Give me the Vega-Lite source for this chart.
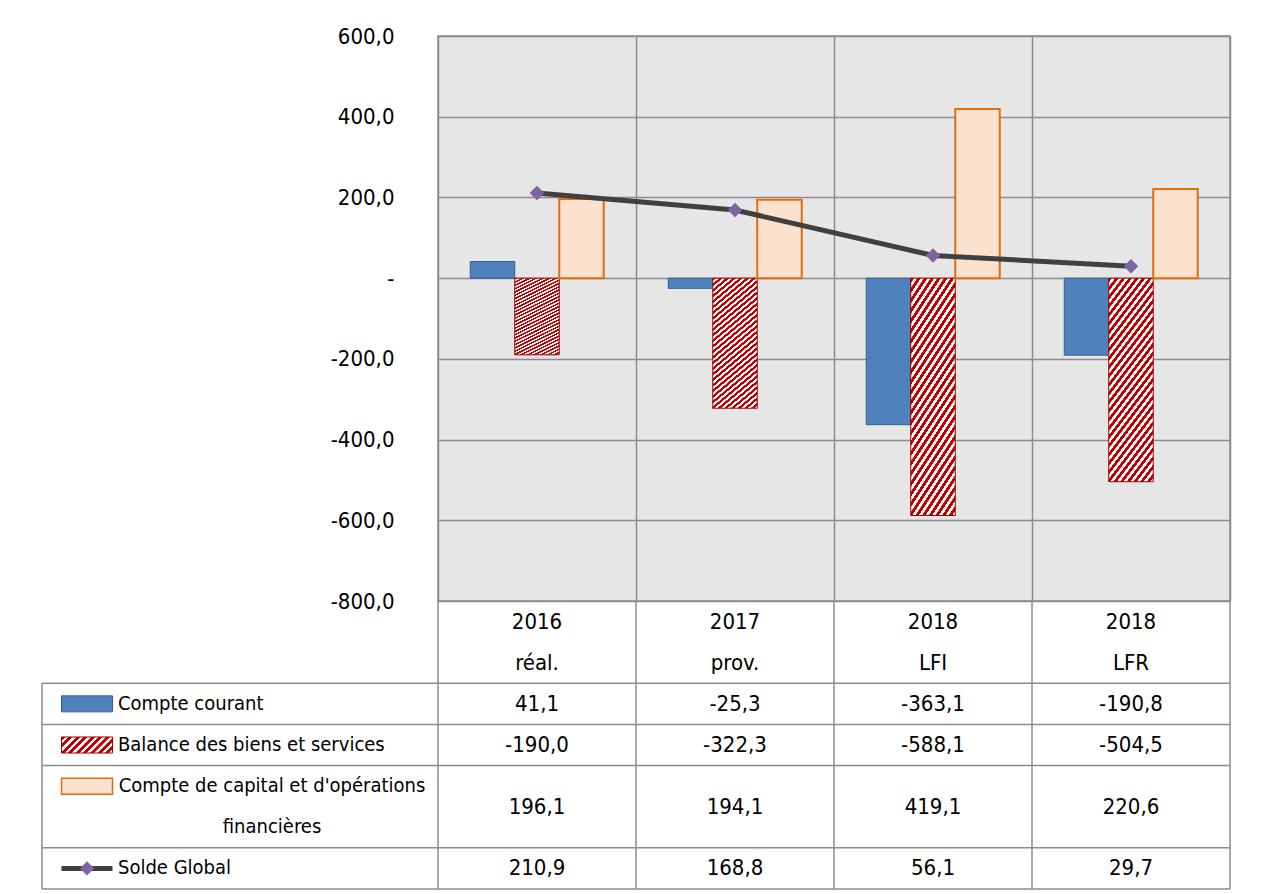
{
  "$schema": "https://vega.github.io/schema/vega-lite/v6.json",
  "autosize": {"type": "pad"},
  "padding": {"left": 41, "top": 24, "right": 30, "bottom": 5},
  "background": "#ffffff",
  "config": {
    "font": "Liberation Sans Narrow, DejaVu Sans Condensed, sans-serif",
    "view": {"stroke": null},
    "text": {"fontSize": 22, "fill": "#000000"},
    "locale": {"number": {"decimal": ",", "thousands": " ", "grouping": [3], "currency": ["", " €"], "minus": "-"}}
  },
  "datasets": {
    "vals": [
      {"series": "Compte courant", "cat": "2016 réal.", "value": 41.1},
      {"series": "Compte courant", "cat": "2017 prov.", "value": -25.3},
      {"series": "Compte courant", "cat": "2018 LFI", "value": -363.1},
      {"series": "Compte courant", "cat": "2018 LFR", "value": -190.8},
      {"series": "Balance des biens et services", "cat": "2016 réal.", "value": -190.0},
      {"series": "Balance des biens et services", "cat": "2017 prov.", "value": -322.3},
      {"series": "Balance des biens et services", "cat": "2018 LFI", "value": -588.1},
      {"series": "Balance des biens et services", "cat": "2018 LFR", "value": -504.5},
      {"series": "Compte de capital et d'opérations financières", "cat": "2016 réal.", "value": 196.1},
      {"series": "Compte de capital et d'opérations financières", "cat": "2017 prov.", "value": 194.1},
      {"series": "Compte de capital et d'opérations financières", "cat": "2018 LFI", "value": 419.1},
      {"series": "Compte de capital et d'opérations financières", "cat": "2018 LFR", "value": 220.6},
      {"series": "Solde Global", "cat": "2016 réal.", "value": 210.9},
      {"series": "Solde Global", "cat": "2017 prov.", "value": 168.8},
      {"series": "Solde Global", "cat": "2018 LFI", "value": 56.1},
      {"series": "Solde Global", "cat": "2018 LFR", "value": 29.7}
    ],
    "cats": [
      {"cat": "2016 réal.", "year": "2016", "tag": "réal."},
      {"cat": "2017 prov.", "year": "2017", "tag": "prov."},
      {"cat": "2018 LFI", "year": "2018", "tag": "LFI"},
      {"cat": "2018 LFR", "year": "2018", "tag": "LFR"}
    ],
    "series": [
      {"series": "Compte courant"},
      {"series": "Balance des biens et services"},
      {"series": "Compte de capital et d'opérations financières"},
      {"series": "Solde Global"}
    ]
  },
  "columns": 2,
  "spacing": 0,
  "bounds": "flush",
  "concat": [
    {"width": 396, "height": 565, "data": {"values": []}, "mark": {"type": "point", "opacity": 0}, "encoding": {}},
    {
      "width": 792,
      "height": 565,
      "view": {"fill": "#e6e6e6", "stroke": "#8c8c8c", "strokeWidth": 1.5},
      "data": {"name": "vals"},
      "encoding": {
        "x": {
          "field": "cat", "type": "nominal",
          "scale": {"domain": ["2016 réal.", "2017 prov.", "2018 LFI", "2018 LFR"], "paddingInner": 0, "paddingOuter": 0},
          "axis": {"title": null, "labels": false, "ticks": false, "domain": false, "grid": true, "gridColor": "#8c8c8c", "gridWidth": 1.5, "tickBand": "extent"}
        },
        "y": {
          "field": "value", "type": "quantitative",
          "scale": {"domain": [-800, 600], "nice": false, "zero": false},
          "axis": {
            "title": null,
            "values": [-800, -600, -400, -200, 0, 200, 400, 600],
            "labelExpr": "datum.value == 0 ? '-\u00a0\u00a0\u00a0' : format(datum.value, '.1f')",
            "ticks": false, "domain": false, "grid": true, "gridColor": "#8c8c8c", "gridWidth": 1.5,
            "labelFontSize": 22, "labelColor": "#000000", "labelPadding": 44,
            "labelFont": "Liberation Sans Narrow, DejaVu Sans Condensed, sans-serif"
          }
        }
      },
      "layer": [
        {
          "transform": [{"filter": {"field": "series", "equal": "Compte courant"}}],
          "mark": {"type": "bar", "fill": "#4f81bd", "stroke": "#385d8a", "strokeWidth": 1},
          "encoding": {"xOffset": {"field": "series", "type": "nominal", "scale": {"domain": ["Compte courant", "Balance des biens et services", "Compte de capital et d'opérations financières"], "paddingInner": 0, "paddingOuter": 0.725}}}
        },
        {
          "transform": [{"filter": {"field": "series", "equal": "Balance des biens et services"}}],
          "mark": {
            "type": "bar", "stroke": "#9c0000", "strokeWidth": 1,
            "fill": {
              "gradient": "linear", "x1": 0, "y1": 0, "x2": 0.34, "y2": 1.19,
              "stops": [
                {"offset": 0, "color": "#c00000"}, {"offset": 0.016, "color": "#c00000"}, {"offset": 0.0173, "color": "#ffffff"}, {"offset": 0.032, "color": "#ffffff"},
                {"offset": 0.0333, "color": "#c00000"}, {"offset": 0.0493, "color": "#c00000"}, {"offset": 0.0506, "color": "#ffffff"}, {"offset": 0.0653, "color": "#ffffff"},
                {"offset": 0.0667, "color": "#c00000"}, {"offset": 0.0827, "color": "#c00000"}, {"offset": 0.084, "color": "#ffffff"}, {"offset": 0.0987, "color": "#ffffff"},
                {"offset": 0.1, "color": "#c00000"}, {"offset": 0.116, "color": "#c00000"}, {"offset": 0.1173, "color": "#ffffff"}, {"offset": 0.132, "color": "#ffffff"},
                {"offset": 0.1333, "color": "#c00000"}, {"offset": 0.1493, "color": "#c00000"}, {"offset": 0.1506, "color": "#ffffff"}, {"offset": 0.1653, "color": "#ffffff"},
                {"offset": 0.1667, "color": "#c00000"}, {"offset": 0.1827, "color": "#c00000"}, {"offset": 0.184, "color": "#ffffff"}, {"offset": 0.1987, "color": "#ffffff"},
                {"offset": 0.2, "color": "#c00000"}, {"offset": 0.216, "color": "#c00000"}, {"offset": 0.2173, "color": "#ffffff"}, {"offset": 0.232, "color": "#ffffff"},
                {"offset": 0.2333, "color": "#c00000"}, {"offset": 0.2493, "color": "#c00000"}, {"offset": 0.2506, "color": "#ffffff"}, {"offset": 0.2653, "color": "#ffffff"},
                {"offset": 0.2667, "color": "#c00000"}, {"offset": 0.2827, "color": "#c00000"}, {"offset": 0.284, "color": "#ffffff"}, {"offset": 0.2987, "color": "#ffffff"},
                {"offset": 0.3, "color": "#c00000"}, {"offset": 0.316, "color": "#c00000"}, {"offset": 0.3173, "color": "#ffffff"}, {"offset": 0.332, "color": "#ffffff"},
                {"offset": 0.3333, "color": "#c00000"}, {"offset": 0.3493, "color": "#c00000"}, {"offset": 0.3506, "color": "#ffffff"}, {"offset": 0.3653, "color": "#ffffff"},
                {"offset": 0.3667, "color": "#c00000"}, {"offset": 0.3827, "color": "#c00000"}, {"offset": 0.384, "color": "#ffffff"}, {"offset": 0.3987, "color": "#ffffff"},
                {"offset": 0.4, "color": "#c00000"}, {"offset": 0.416, "color": "#c00000"}, {"offset": 0.4173, "color": "#ffffff"}, {"offset": 0.432, "color": "#ffffff"},
                {"offset": 0.4333, "color": "#c00000"}, {"offset": 0.4493, "color": "#c00000"}, {"offset": 0.4506, "color": "#ffffff"}, {"offset": 0.4653, "color": "#ffffff"},
                {"offset": 0.4667, "color": "#c00000"}, {"offset": 0.4827, "color": "#c00000"}, {"offset": 0.484, "color": "#ffffff"}, {"offset": 0.4987, "color": "#ffffff"},
                {"offset": 0.5, "color": "#c00000"}, {"offset": 0.516, "color": "#c00000"}, {"offset": 0.5173, "color": "#ffffff"}, {"offset": 0.532, "color": "#ffffff"},
                {"offset": 0.5333, "color": "#c00000"}, {"offset": 0.5493, "color": "#c00000"}, {"offset": 0.5506, "color": "#ffffff"}, {"offset": 0.5653, "color": "#ffffff"},
                {"offset": 0.5667, "color": "#c00000"}, {"offset": 0.5827, "color": "#c00000"}, {"offset": 0.584, "color": "#ffffff"}, {"offset": 0.5987, "color": "#ffffff"},
                {"offset": 0.6, "color": "#c00000"}, {"offset": 0.616, "color": "#c00000"}, {"offset": 0.6173, "color": "#ffffff"}, {"offset": 0.632, "color": "#ffffff"},
                {"offset": 0.6333, "color": "#c00000"}, {"offset": 0.6493, "color": "#c00000"}, {"offset": 0.6506, "color": "#ffffff"}, {"offset": 0.6653, "color": "#ffffff"},
                {"offset": 0.6667, "color": "#c00000"}, {"offset": 0.6827, "color": "#c00000"}, {"offset": 0.684, "color": "#ffffff"}, {"offset": 0.6987, "color": "#ffffff"},
                {"offset": 0.7, "color": "#c00000"}, {"offset": 0.716, "color": "#c00000"}, {"offset": 0.7173, "color": "#ffffff"}, {"offset": 0.732, "color": "#ffffff"},
                {"offset": 0.7333, "color": "#c00000"}, {"offset": 0.7493, "color": "#c00000"}, {"offset": 0.7506, "color": "#ffffff"}, {"offset": 0.7653, "color": "#ffffff"},
                {"offset": 0.7667, "color": "#c00000"}, {"offset": 0.7827, "color": "#c00000"}, {"offset": 0.784, "color": "#ffffff"}, {"offset": 0.7987, "color": "#ffffff"},
                {"offset": 0.8, "color": "#c00000"}, {"offset": 0.816, "color": "#c00000"}, {"offset": 0.8173, "color": "#ffffff"}, {"offset": 0.832, "color": "#ffffff"},
                {"offset": 0.8333, "color": "#c00000"}, {"offset": 0.8493, "color": "#c00000"}, {"offset": 0.8506, "color": "#ffffff"}, {"offset": 0.8653, "color": "#ffffff"},
                {"offset": 0.8667, "color": "#c00000"}, {"offset": 0.8827, "color": "#c00000"}, {"offset": 0.884, "color": "#ffffff"}, {"offset": 0.8987, "color": "#ffffff"},
                {"offset": 0.9, "color": "#c00000"}, {"offset": 0.916, "color": "#c00000"}, {"offset": 0.9173, "color": "#ffffff"}, {"offset": 0.932, "color": "#ffffff"},
                {"offset": 0.9333, "color": "#c00000"}, {"offset": 0.9493, "color": "#c00000"}, {"offset": 0.9506, "color": "#ffffff"}, {"offset": 0.9653, "color": "#ffffff"},
                {"offset": 0.9667, "color": "#c00000"}, {"offset": 0.9827, "color": "#c00000"}, {"offset": 0.984, "color": "#ffffff"}, {"offset": 0.9987, "color": "#ffffff"},
                {"offset": 1, "color": "#c00000"}
              ]
            }
          },
          "encoding": {"xOffset": {"field": "series", "type": "nominal"}}
        },
        {
          "transform": [{"filter": {"field": "series", "equal": "Compte de capital et d'opérations financières"}}],
          "mark": {"type": "bar", "fill": "#fae2ce", "stroke": "#e46c0a", "strokeWidth": 2},
          "encoding": {"xOffset": {"field": "series", "type": "nominal"}}
        },
        {
          "transform": [{"filter": {"field": "series", "equal": "Solde Global"}}],
          "mark": {"type": "line", "stroke": "#404040", "strokeWidth": 5}
        },
        {
          "transform": [{"filter": {"field": "series", "equal": "Solde Global"}}],
          "mark": {"type": "point", "shape": "diamond", "filled": true, "fill": "#8064a2", "stroke": null, "size": 210, "opacity": 1}
        }
      ]
    },
    {
      "width": 396,
      "height": 288,
      "layer": [
        {
          "data": {"name": "series"},
          "mark": {"type": "rule", "stroke": "#8c8c8c", "strokeWidth": 1.5},
          "encoding": {
            "y": {"field": "series", "type": "nominal", "bandPosition": 0,
              "scale": {"type": "band", "domain": ["h1", "h2", "Compte courant", "Balance des biens et services", "Compte de capital et d'opérations financières", "c2", "Solde Global"], "paddingInner": 0, "paddingOuter": 0},
              "axis": null}
          }
        },
        {
          "data": {"values": [{}]},
          "mark": {"type": "rule", "stroke": "#8c8c8c", "strokeWidth": 1.5},
          "encoding": {"y": {"datum": "Solde Global", "type": "nominal", "bandPosition": 1}}
        },
        {
          "data": {"values": [{}]},
          "mark": {"type": "rule", "stroke": "#8c8c8c", "strokeWidth": 1.5},
          "encoding": {
            "x": {"datum": "L", "type": "nominal", "bandPosition": 0, "scale": {"type": "band", "domain": ["L"], "paddingInner": 0, "paddingOuter": 0}, "axis": null},
            "y": {"datum": "Compte courant", "type": "nominal", "bandPosition": 0},
            "y2": {"datum": "Solde Global", "bandPosition": 1}
          }
        },
        {
          "data": {"name": "series"},
          "transform": [{"filter": {"not": {"field": "series", "equal": "Compte de capital et d'opérations financières"}}}],
          "mark": {"type": "text", "align": "left", "dx": 76, "fontSize": 20},
          "encoding": {
            "x": {"datum": "L", "type": "nominal", "bandPosition": 0},
            "y": {"field": "series", "type": "nominal"},
            "text": {"field": "series"}
          }
        },
        {
          "data": {"name": "series"},
          "transform": [{"filter": {"field": "series", "equal": "Compte de capital et d'opérations financières"}}],
          "mark": {"type": "text", "align": "center", "dx": 230, "fontSize": 20, "lineHeight": 41, "text": ["Compte de capital et d'opérations", "financières"]},
          "encoding": {
            "x": {"datum": "L", "type": "nominal", "bandPosition": 0},
            "y": {"field": "series", "type": "nominal"}
          }
        },
        {
          "data": {"name": "series"},
          "transform": [{"filter": {"field": "series", "equal": "Compte courant"}}],
          "mark": {"type": "point", "shape": "M-1,-0.314H1V0.314H-1Z", "size": 2601, "filled": true, "fill": "#4f81bd", "stroke": "#385d8a", "strokeWidth": 1, "opacity": 1, "xOffset": 45},
          "encoding": {
            "x": {"datum": "L", "type": "nominal", "bandPosition": 0},
            "y": {"field": "series", "type": "nominal"}
          }
        },
        {
          "data": {"name": "series"},
          "transform": [{"filter": {"field": "series", "equal": "Balance des biens et services"}}],
          "mark": {
            "type": "point", "shape": "M-1,-0.314H1V0.314H-1Z", "size": 2601, "filled": true, "stroke": "#9c0000", "strokeWidth": 1, "opacity": 1, "xOffset": 45,
            "fill": {
              "gradient": "linear", "x1": 0, "y1": 0, "x2": 1.196, "y2": 0.3755,
              "stops": [
                {"offset": 0, "color": "#c00000"}, {"offset": 0.055, "color": "#c00000"}, {"offset": 0.06, "color": "#ffffff"}, {"offset": 0.106, "color": "#ffffff"},
                {"offset": 0.1111, "color": "#c00000"}, {"offset": 0.1661, "color": "#c00000"}, {"offset": 0.1711, "color": "#ffffff"}, {"offset": 0.2171, "color": "#ffffff"},
                {"offset": 0.2222, "color": "#c00000"}, {"offset": 0.2772, "color": "#c00000"}, {"offset": 0.2822, "color": "#ffffff"}, {"offset": 0.3282, "color": "#ffffff"},
                {"offset": 0.3333, "color": "#c00000"}, {"offset": 0.3883, "color": "#c00000"}, {"offset": 0.3933, "color": "#ffffff"}, {"offset": 0.4393, "color": "#ffffff"},
                {"offset": 0.4444, "color": "#c00000"}, {"offset": 0.4994, "color": "#c00000"}, {"offset": 0.5044, "color": "#ffffff"}, {"offset": 0.5504, "color": "#ffffff"},
                {"offset": 0.5556, "color": "#c00000"}, {"offset": 0.6106, "color": "#c00000"}, {"offset": 0.6156, "color": "#ffffff"}, {"offset": 0.6616, "color": "#ffffff"},
                {"offset": 0.6667, "color": "#c00000"}, {"offset": 0.7217, "color": "#c00000"}, {"offset": 0.7267, "color": "#ffffff"}, {"offset": 0.7727, "color": "#ffffff"},
                {"offset": 0.7778, "color": "#c00000"}, {"offset": 0.8328, "color": "#c00000"}, {"offset": 0.8378, "color": "#ffffff"}, {"offset": 0.8838, "color": "#ffffff"},
                {"offset": 0.8889, "color": "#c00000"}, {"offset": 0.9439, "color": "#c00000"}, {"offset": 0.9489, "color": "#ffffff"}, {"offset": 0.9949, "color": "#ffffff"},
                {"offset": 1, "color": "#c00000"}
              ]
            }
          },
          "encoding": {
            "x": {"datum": "L", "type": "nominal", "bandPosition": 0},
            "y": {"field": "series", "type": "nominal"}
          }
        },
        {
          "data": {"name": "series"},
          "transform": [{"filter": {"field": "series", "equal": "Compte de capital et d'opérations financières"}}],
          "mark": {"type": "point", "shape": "M-1,-0.314H1V0.314H-1Z", "size": 2601, "filled": true, "fill": "#fae2ce", "stroke": "#e46c0a", "strokeWidth": 1.5, "opacity": 1, "xOffset": 45},
          "encoding": {
            "x": {"datum": "L", "type": "nominal", "bandPosition": 0},
            "y": {"field": "series", "type": "nominal"}
          }
        },
        {
          "data": {"name": "series"},
          "transform": [{"filter": {"field": "series", "equal": "Solde Global"}}],
          "mark": {"type": "point", "shape": "M-1,0H1", "size": 2601, "filled": false, "stroke": "#404040", "strokeWidth": 5, "opacity": 1, "xOffset": 45},
          "encoding": {
            "x": {"datum": "L", "type": "nominal", "bandPosition": 0},
            "y": {"field": "series", "type": "nominal"}
          }
        },
        {
          "data": {"name": "series"},
          "transform": [{"filter": {"field": "series", "equal": "Solde Global"}}],
          "mark": {"type": "point", "shape": "diamond", "size": 200, "filled": true, "fill": "#8064a2", "stroke": null, "opacity": 1, "xOffset": 45},
          "encoding": {
            "x": {"datum": "L", "type": "nominal", "bandPosition": 0},
            "y": {"field": "series", "type": "nominal"}
          }
        }
      ]
    },
    {
      "width": 792,
      "height": 288,
      "layer": [
        {
          "data": {"name": "series"},
          "mark": {"type": "rule", "stroke": "#8c8c8c", "strokeWidth": 1.5},
          "encoding": {
            "y": {"field": "series", "type": "nominal", "bandPosition": 0,
              "scale": {"type": "band", "domain": ["h1", "h2", "Compte courant", "Balance des biens et services", "Compte de capital et d'opérations financières", "c2", "Solde Global"], "paddingInner": 0, "paddingOuter": 0},
              "axis": null}
          }
        },
        {
          "data": {"values": [{}]},
          "mark": {"type": "rule", "stroke": "#8c8c8c", "strokeWidth": 1.5},
          "encoding": {"y": {"datum": "Solde Global", "type": "nominal", "bandPosition": 1}}
        },
        {
          "data": {"name": "cats"},
          "mark": {"type": "rule", "stroke": "#8c8c8c", "strokeWidth": 1.5},
          "encoding": {
            "x": {"field": "cat", "type": "nominal", "bandPosition": 0,
              "scale": {"type": "band", "domain": ["2016 réal.", "2017 prov.", "2018 LFI", "2018 LFR"], "paddingInner": 0, "paddingOuter": 0},
              "axis": null}
          }
        },
        {
          "data": {"values": [{}]},
          "mark": {"type": "rule", "stroke": "#8c8c8c", "strokeWidth": 1.5},
          "encoding": {"x": {"datum": "2018 LFR", "type": "nominal", "bandPosition": 1}}
        },
        {
          "data": {"name": "cats"},
          "mark": {"type": "text"},
          "encoding": {
            "x": {"field": "cat", "type": "nominal"},
            "y": {"datum": "h1", "type": "nominal"},
            "text": {"field": "year"}
          }
        },
        {
          "data": {"name": "cats"},
          "mark": {"type": "text"},
          "encoding": {
            "x": {"field": "cat", "type": "nominal"},
            "y": {"datum": "h2", "type": "nominal"},
            "text": {"field": "tag"}
          }
        },
        {
          "data": {"name": "vals"},
          "transform": [{"filter": {"not": {"field": "series", "equal": "Compte de capital et d'opérations financières"}}}],
          "mark": {"type": "text"},
          "encoding": {
            "x": {"field": "cat", "type": "nominal"},
            "y": {"field": "series", "type": "nominal"},
            "text": {"field": "value", "type": "quantitative", "format": ".1f"}
          }
        },
        {
          "data": {"name": "vals"},
          "transform": [{"filter": {"field": "series", "equal": "Compte de capital et d'opérations financières"}}],
          "mark": {"type": "text"},
          "encoding": {
            "x": {"field": "cat", "type": "nominal"},
            "y": {"field": "series", "type": "nominal", "bandPosition": 1},
            "text": {"field": "value", "type": "quantitative", "format": ".1f"}
          }
        }
      ]
    }
  ]
}
